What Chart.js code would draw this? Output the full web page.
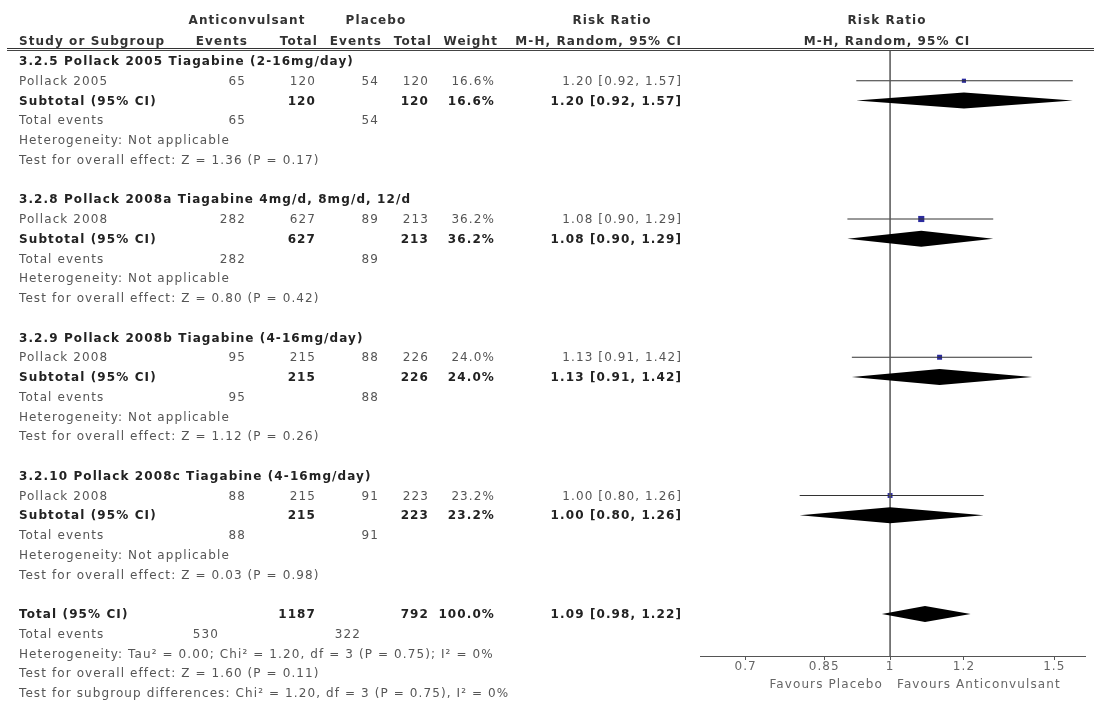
<!DOCTYPE html>
<html>
<head>
<meta charset="utf-8">
<script src="https://cdn.jsdelivr.net/npm/chart.js@4.4.1/dist/chart.umd.min.js"></script>
<style>
  html, body { margin: 0; padding: 0; background: #fff; }
  #reporte { position: relative; width: 1094px; height: 705px; overflow: hidden;
    font-family: "DejaVu Sans", sans-serif; font-size: 12px; color: #555; letter-spacing: 1.1px; }
  #grafico { position: absolute; left: 0; top: 0; }
  .t { position: absolute; white-space: nowrap; line-height: 14px; }
  .b { font-weight: bold; color: #222; }
  .h { font-weight: bold; color: #333; }
  .p { color: #666; }
  #linea { position: absolute; left: 7px; right: 0; top: 48px; height: 1px;
    border-top: 1px solid #333; border-bottom: 1px solid #444; }
</style>
</head>
<body>
<div id="reporte">
  <canvas id="grafico" width="1094" height="705"></canvas>
  <div id="linea"></div>
</div>
<script>
const subgrupos = [
  '3.2.5 Pollack 2005 Tiagabine (2-16mg/day)',
  '3.2.8 Pollack 2008a Tiagabine 4mg/d, 8mg/d, 12/d',
  '3.2.9 Pollack 2008b Tiagabine (4-16mg/day)',
  '3.2.10 Pollack 2008c Tiagabine (4-16mg/day)'
];
const estudios = ['Pollack 2005', 'Pollack 2008', 'Pollack 2008', 'Pollack 2008'];
const eventosAnti = [65, 282, 95, 88];
const totalAnti = [120, 627, 215, 215];
const eventosPlac = [54, 89, 88, 91];
const totalPlac = [120, 213, 226, 223];
const pesos = [16.6, 36.2, 24.0, 23.2];
const rr = [1.20, 1.08, 1.13, 1.00];
const ciBajo = [0.92, 0.90, 0.91, 0.80];
const ciAlto = [1.57, 1.29, 1.42, 1.26];
const efectoGlobal = ['Z = 1.36 (P = 0.17)', 'Z = 0.80 (P = 0.42)', 'Z = 1.12 (P = 0.26)', 'Z = 0.03 (P = 0.98)'];

const totalRR = [1.09, 0.98, 1.22];
const totalEventos = [530, 322];
const totalN = [1187, 792];
const lineasFinales = [
  'Heterogeneity: Tau\u00b2 = 0.00; Chi\u00b2 = 1.20, df = 3 (P = 0.75); I\u00b2 = 0%',
  'Test for overall effect: Z = 1.60 (P = 0.11)',
  'Test for subgroup differences: Chi\u00b2 = 1.20, df = 3 (P = 0.75), I\u00b2 = 0%'
];
const tickValores = [0.7, 0.85, 1, 1.2, 1.5];

// filas: cada subgrupo ocupa 7 filas, el total empieza en la 28
const filaEstudio = subgrupos.map((_, i) => i * 7 + 1);
const filaTotal = 28;
const yMin = (50 - 61) / 19.75;
const yMax = (656 - 61) / 19.75;

const fmtCI = (a, b, c) => `${a.toFixed(2)} [${b.toFixed(2)}, ${c.toFixed(2)}]`;

const rombos = {
  id: 'rombos',
  afterDatasetsDraw(chart) {
    const { ctx, scales: { x, y } } = chart;
    const dibujar = (centro, bajo, alto, fila, mitad) => {
      const yc = y.getPixelForValue(fila);
      ctx.save();
      ctx.beginPath();
      ctx.moveTo(x.getPixelForValue(bajo), yc);
      ctx.lineTo(x.getPixelForValue(centro), yc - mitad);
      ctx.lineTo(x.getPixelForValue(alto), yc);
      ctx.lineTo(x.getPixelForValue(centro), yc + mitad);
      ctx.closePath();
      ctx.fillStyle = '#000';
      ctx.fill();
      ctx.restore();
    };
    rr.forEach((v, i) => dibujar(v, ciBajo[i], ciAlto[i], filaEstudio[i] + 1, 8));
    dibujar(totalRR[0], totalRR[1], totalRR[2], filaTotal, 8);
  }
};

const datasets = [{
  data: [{ x: 1, y: yMin }, { x: 1, y: yMax }],
  showLine: true, borderColor: '#555', borderWidth: 1.5, pointRadius: 0
}];
rr.forEach((v, i) => {
  datasets.push({
    data: [{ x: ciBajo[i], y: filaEstudio[i] }, { x: ciAlto[i], y: filaEstudio[i] }],
    showLine: true, borderColor: '#333', borderWidth: 1, pointRadius: 0
  });
});
datasets.push({
  data: rr.map((v, i) => ({ x: v, y: filaEstudio[i] })),
  pointStyle: 'rect',
  pointRadius: pesos.map(p => Math.sqrt(p) * 0.72),
  backgroundColor: '#2b2b9e', borderColor: '#2b2b9e', borderWidth: 0
});

const grafico = new Chart(document.getElementById('grafico'), {
  type: 'scatter',
  data: { datasets },
  options: {
    responsive: false,
    animation: false,
    layout: { padding: { left: 700, right: 9, top: 50, bottom: 9 } },
    plugins: { legend: { display: false }, tooltip: { enabled: false } },
    scales: {
      x: {
        type: 'logarithmic', min: 0.6255, max: 1.618, bounds: 'data', position: 'bottom',
        border: { color: '#555', width: 1 },
        grid: { drawOnChartArea: false, drawTicks: true, tickLength: 4, color: '#555' },
        ticks: { font: { family: 'DejaVu Sans', size: 12 }, color: '#666', padding: 0,
          autoSkip: false, maxRotation: 0, callback: v => String(v) },
        afterBuildTicks: s => { s.ticks = tickValores.map(v => ({ value: v })); },
        afterFit: s => { s.height = 40; }
      },
      y: { type: 'linear', reverse: true, min: yMin, max: yMax, display: false }
    }
  },
  plugins: [rombos]
});

// texto de la tabla, colocado con la misma escala vertical del grafico
const reporte = document.getElementById('reporte');
const ys = grafico.scales.y;
function texto(t, x, y, alin, clase) {
  const el = document.createElement('div');
  el.className = 't' + (clase ? ' ' + clase : '');
  el.textContent = t;
  el.style.top = (y - 7) + 'px';
  if (alin === 'r') el.style.right = (1094 - x) + 'px';
  else if (alin === 'c') { el.style.left = x + 'px'; el.style.transform = 'translateX(-50%)'; }
  else el.style.left = x + 'px';
  reporte.appendChild(el);
}
const fy = f => ys.getPixelForValue(f);
const X = { izq: 19, ev1: 246, tot1: 316, ev2: 379, tot2: 429, peso: 495, rr: 682 };

texto('Anticonvulsant', 247, 20, 'c', 'h');
texto('Placebo', 376, 20, 'c', 'h');
texto('Risk Ratio', 612, 20, 'c', 'h');
texto('Risk Ratio', 887, 20, 'c', 'h');
texto('Study or Subgroup', X.izq, 41, 'l', 'h');
texto('Events', 248, 41, 'r', 'h');
texto('Total', 318, 41, 'r', 'h');
texto('Events', 382, 41, 'r', 'h');
texto('Total', 432, 41, 'r', 'h');
texto('Weight', 498, 41, 'r', 'h');
texto('M-H, Random, 95% CI', X.rr, 41, 'r', 'h');
texto('M-H, Random, 95% CI', 887, 41, 'c', 'h');

subgrupos.forEach((nombre, i) => {
  const f = filaEstudio[i];
  texto(nombre, X.izq, fy(f - 1), 'l', 'b');
  texto(estudios[i], X.izq, fy(f));
  texto(String(eventosAnti[i]), X.ev1, fy(f), 'r');
  texto(String(totalAnti[i]), X.tot1, fy(f), 'r');
  texto(String(eventosPlac[i]), X.ev2, fy(f), 'r');
  texto(String(totalPlac[i]), X.tot2, fy(f), 'r');
  texto(pesos[i].toFixed(1) + '%', X.peso, fy(f), 'r');
  texto(fmtCI(rr[i], ciBajo[i], ciAlto[i]), X.rr, fy(f), 'r');
  texto('Subtotal (95% CI)', X.izq, fy(f + 1), 'l', 'b');
  texto(String(totalAnti[i]), X.tot1, fy(f + 1), 'r', 'b');
  texto(String(totalPlac[i]), X.tot2, fy(f + 1), 'r', 'b');
  texto(pesos[i].toFixed(1) + '%', X.peso, fy(f + 1), 'r', 'b');
  texto(fmtCI(rr[i], ciBajo[i], ciAlto[i]), X.rr, fy(f + 1), 'r', 'b');
  texto('Total events', X.izq, fy(f + 2));
  texto(String(eventosAnti[i]), X.ev1, fy(f + 2), 'r');
  texto(String(eventosPlac[i]), X.ev2, fy(f + 2), 'r');
  texto('Heterogeneity: Not applicable', X.izq, fy(f + 3));
  texto('Test for overall effect: ' + efectoGlobal[i], X.izq, fy(f + 4));
});

texto('Total (95% CI)', X.izq, fy(filaTotal), 'l', 'b');
texto(String(totalN[0]), X.tot1, fy(filaTotal), 'r', 'b');
texto(String(totalN[1]), X.tot2, fy(filaTotal), 'r', 'b');
texto('100.0%', X.peso, fy(filaTotal), 'r', 'b');
texto(fmtCI(totalRR[0], totalRR[1], totalRR[2]), X.rr, fy(filaTotal), 'r', 'b');
texto('Total events', X.izq, fy(filaTotal + 1));
texto(String(totalEventos[0]), 219, fy(filaTotal + 1), 'r');
texto(String(totalEventos[1]), 361, fy(filaTotal + 1), 'r');
lineasFinales.forEach((l, i) => texto(l, X.izq, fy(filaTotal + 2 + i)));

texto('Favours Placebo', 883, 684, 'r', 'p');
texto('Favours Anticonvulsant', 897, 684, 'l', 'p');
</script>
</body>
</html>
